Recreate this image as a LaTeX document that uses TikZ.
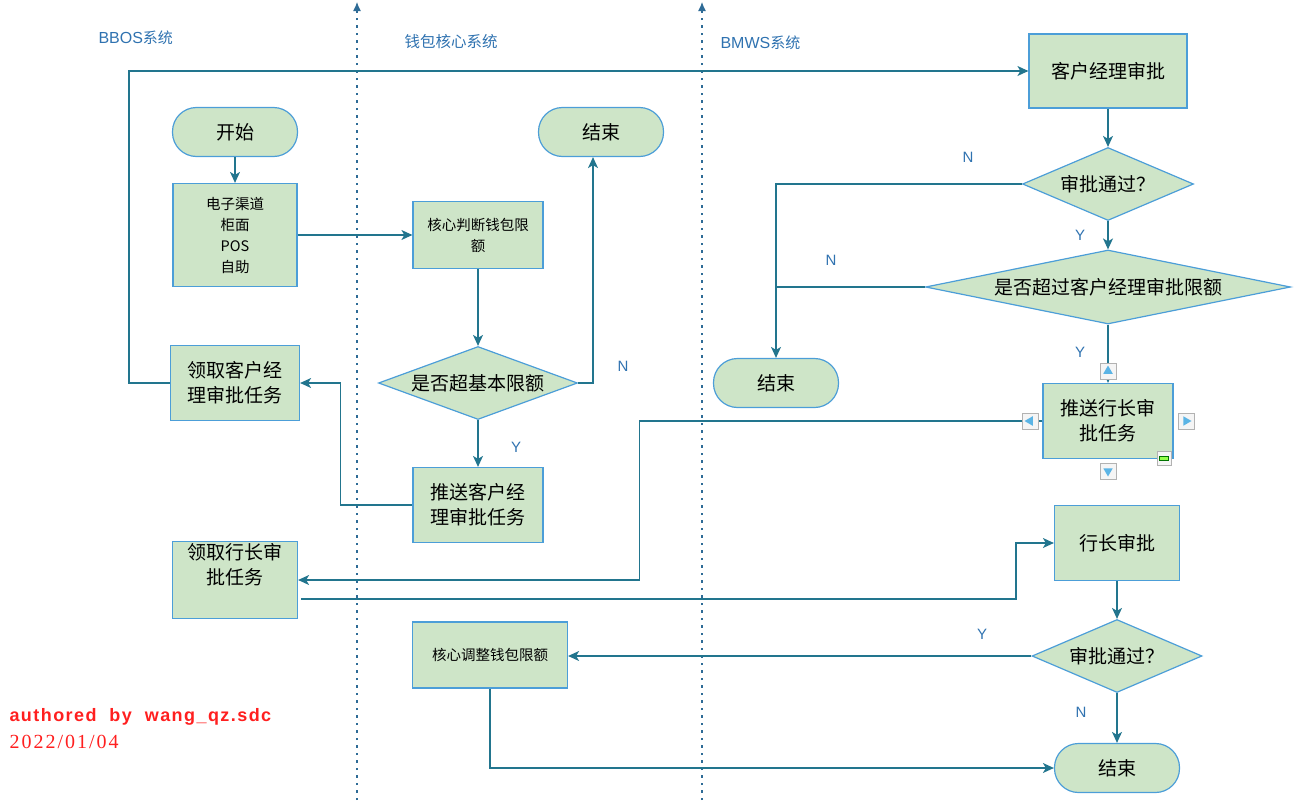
\documentclass[tikz,border=0pt]{standalone}
\usepackage{fontspec}
\setmainfont{Liberation Sans}
\newfontfamily\cjk{Noto Sans CJK SC}
\newfontfamily\datefont[LetterSpace=10]{Liberation Serif}
\newfontfamily\authorfont[LetterSpace=8,WordSpace=2]{Liberation Sans}
\usetikzlibrary{arrows.meta,shapes.geometric}
\definecolor{flowTeal}{HTML}{22758E}
\definecolor{boxBlue}{HTML}{4C9ED8}
\definecolor{boxGreen}{HTML}{CEE5C8}
\definecolor{laneBlue}{HTML}{2E6B96}
\definecolor{labelBlue}{HTML}{2F72B0}
\definecolor{authorRed}{HTML}{FF1F1F}
\definecolor{handleBlue}{HTML}{5BB4E5}

\begin{document}
\begin{tikzpicture}[
  x=1pt, y=-1pt,
  proc/.style={draw=boxBlue, fill=boxGreen, line width=1.2pt, align=center, inner sep=2pt, font=\cjk\fontsize{19}{25}\selectfont},
  procsmall/.style={proc, font=\cjk\fontsize{14.5}{21}\selectfont},
  terminal/.style={proc, rounded corners=24pt, minimum width=125pt, minimum height=49pt},
  decision/.style={proc, diamond, inner sep=0pt},
  flow/.style={-{Stealth[length=11pt,width=10pt,inset=3pt]}, line width=1.3pt, draw=flowTeal},
  joinline/.style={line width=1.3pt, draw=flowTeal},
  lane/.style={draw=laneBlue, line width=1.2pt, dash pattern=on 2.5pt off 5pt},
  lanetip/.style={-{Latex[length=9pt,width=8pt]}},
  lanetitle/.style={anchor=west, text=labelBlue, font=\fontsize{16}{18}\selectfont},
  yn/.style={text=labelBlue, font=\fontsize{15}{17}\selectfont},
  handlebox/.style={draw=black!30, fill=black!4, line width=0.8pt, minimum size=16pt, inner sep=0pt},
  handletip/.style={regular polygon, regular polygon sides=3, fill=handleBlue, minimum size=11pt, inner sep=0pt}
]
\useasboundingbox (0,0) rectangle (1301,803);

% swim lanes
\coordinate (laneAbot) at (357,800);
\coordinate (laneAtop) at (357,2);
\coordinate (laneBbot) at (702,800);
\coordinate (laneBtop) at (702,2);
\draw[lane, lanetip] (laneAbot) -- (laneAtop);
\draw[lane, lanetip] (laneBbot) -- (laneBtop);
\node[lanetitle] (titleBBOS) at (95,38) {BBOS{\cjk\fontsize{15}{18}\selectfont 系统}};
\node[lanetitle] (titleCore) at (401,42) {\cjk\fontsize{15.5}{18}\selectfont 钱包核心系统};
\node[lanetitle] (titleBMWS) at (717,43) {BMWS{\cjk\fontsize{15}{18}\selectfont 系统}};

% BBOS lane
\node[terminal] (start) at (235,132) {开始};
\node[procsmall, minimum width=124pt, minimum height=103pt] (channel) at (235,235) {电子渠道\\柜面\\POS\\自助};
\node[proc, minimum width=129pt, minimum height=75pt] (getmgr) at (235,383) {领取客户经\\理审批任务};
\node[proc, minimum width=125pt, minimum height=76pt] (getpres) at (235,580) {领取行长审\\批任务\\\strut};

% core lane
\node[procsmall, minimum width=130pt, minimum height=67pt] (judge) at (478,235) {核心判断钱包限\\额};
\node[terminal] (endcore) at (601,132) {结束};
\node[decision, minimum width=199pt, minimum height=73pt, aspect=2.73] (basicq) at (478,383) {是否超基本限额};
\node[proc, minimum width=130pt, minimum height=75pt] (pushmgr) at (478,505) {推送客户经\\理审批任务};
\node[procsmall, minimum width=155pt, minimum height=66pt] (adjust) at (490,655) {核心调整钱包限额};

% BMWS lane
\node[proc, minimum width=158pt, minimum height=74pt] (mgrapprove) at (1108,71) {客户经理审批};
\node[decision, minimum width=171pt, minimum height=73pt, aspect=2.34] (okmgr) at (1108,184) {审批通过？};
\node[decision, minimum width=365pt, minimum height=74pt, aspect=4.93] (limitq) at (1108,287) {是否超过客户经理审批限额};
\node[terminal] (endmgr) at (776,383) {结束};
\node[proc, minimum width=130pt, minimum height=75pt] (pushpres) at (1108,421) {推送行长审\\批任务};
\node[proc, minimum width=125pt, minimum height=75pt] (presapprove) at (1117,543) {行长审批};
\node[decision, minimum width=170pt, minimum height=73pt, aspect=2.33] (okpres) at (1117,656) {审批通过？};
\node[terminal] (endpres) at (1117,768) {结束};

% connectors
\draw[flow] (start) -- (channel);
\draw[flow] (channel.east |- judge.west) -- (judge.west);
\draw[flow] (judge) -- (basicq);
\draw[flow] (basicq.east) -| ([xshift=-8pt]endcore.south);
\draw[flow] (basicq) -- (pushmgr);
\draw[flow] (pushmgr.west) -- ++(-72,0) |- (getmgr.east);
\draw[flow] (getmgr.west) -- ++(-41,0) |- (mgrapprove.west);
\draw[flow] (mgrapprove) -- (okmgr);
\draw[flow] (okmgr.west) -| (endmgr.north);
\draw[flow] (okmgr) -- (limitq);
\draw[joinline] (limitq.west) -- (limitq.west -| endmgr.north);
\draw[flow] (limitq) -- (pushpres);
\draw[flow] (pushpres.west) -- ++(-403,0) |- (getpres.east);
\draw[flow] ([xshift=3pt,yshift=-19pt]getpres.east) -- ++(715,0) |- (presapprove.west);
\draw[flow] (presapprove) -- (okpres);
\draw[flow] (okpres.west) -- (adjust.east |- okpres.west);
\draw[flow] (okpres) -- (endpres);
\draw[flow] (adjust.south) |- (endpres.west);

% branch labels
\node[yn] (nBasic) at (623,366) {N};
\node[yn] (yBasic) at (516,447) {Y};
\node[yn] (nMgr) at (968,157) {N};
\node[yn] (yMgr) at (1080,235) {Y};
\node[yn] (nLimit) at (831,260) {N};
\node[yn] (yLimit) at (1080,352) {Y};
\node[yn] (yPres) at (982,634) {Y};
\node[yn] (nPres) at (1081,712) {N};

% selection handles
\foreach \hname/\hx/\hy/\hrot in {hTop/1108/371/0, hLeft/1030/421/90, hRight/1186/421/270, hBottom/1108/471/180} {
  \node[handlebox] (\hname) at (\hx,\hy) {};
  \node[handletip, shape border rotate=\hrot] (\hname tip) at (\hx,\hy) {};
}
\node[handlebox, minimum size=14pt] (hSize) at (1164,458) {};
\node[draw=green!45!black, fill=green!60!yellow!70, minimum width=9pt, minimum height=4pt, inner sep=0pt, line width=0.5pt] (hSizebar) at (1164,458) {};

% author
\node[anchor=west, text=authorRed, font=\authorfont\bfseries\fontsize{18}{20}\selectfont] (author) at (6,717) {authored by wang\_qz.sdc};
\node[anchor=west, text=authorRed, font=\datefont\fontsize{20}{22}\selectfont] (date) at (6,742) {2022/01/04};
\end{tikzpicture}
\end{document}
